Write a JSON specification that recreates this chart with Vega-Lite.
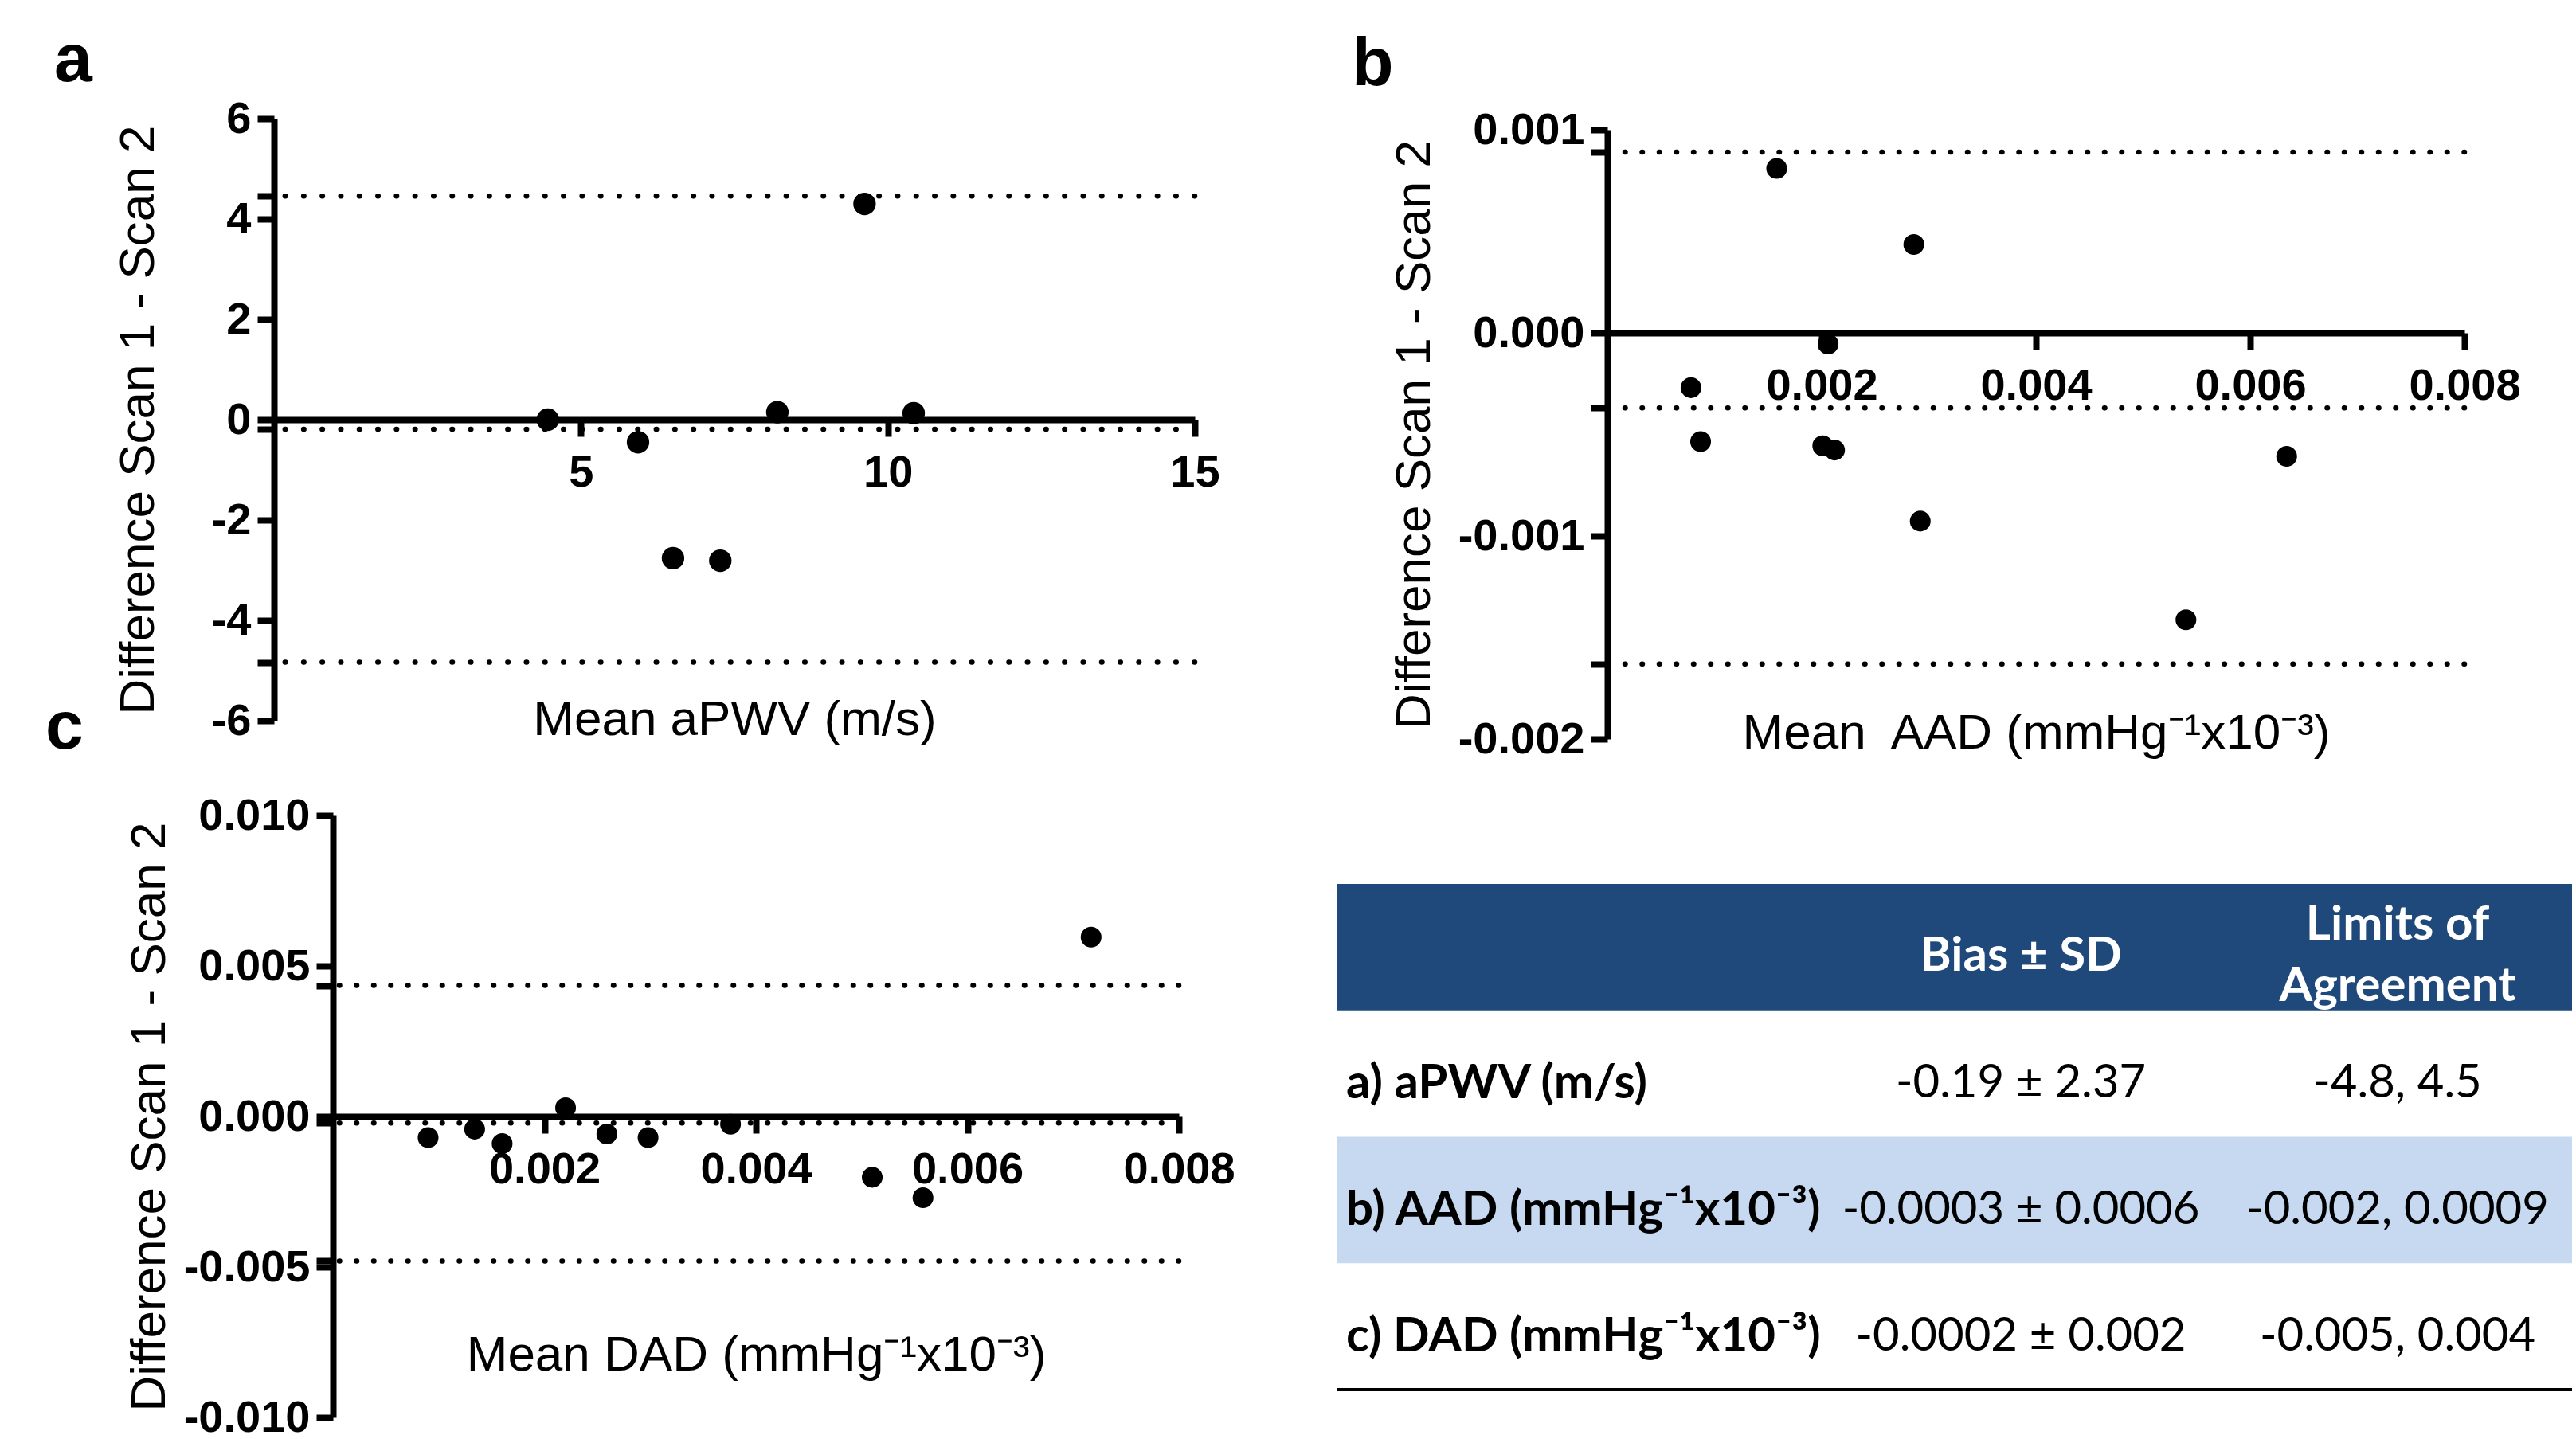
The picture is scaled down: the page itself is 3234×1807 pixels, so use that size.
{
  "$schema": "https://vega.github.io/schema/vega-lite/v6.json",
  "padding": {"left": 57, "top": 33, "right": 5, "bottom": 0},
  "background": "white",
  "datasets": {
    "pwv": [
      {"mean": 4.46, "diff": 0.0},
      {"mean": 5.93, "diff": -0.45},
      {"mean": 6.5, "diff": -2.76},
      {"mean": 7.27, "diff": -2.81},
      {"mean": 8.2, "diff": 0.15},
      {"mean": 9.62, "diff": 4.3},
      {"mean": 10.42, "diff": 0.13}
    ],
    "pwvLoA": [{"diff": 4.455}, {"diff": -0.19}, {"diff": -4.835}],
    "aad": [
      {"mean": 0.00158, "diff": 0.00081},
      {"mean": 0.00286, "diff": 0.000435},
      {"mean": 0.00206, "diff": -0.000055},
      {"mean": 0.00078, "diff": -0.00027},
      {"mean": 0.00087, "diff": -0.000535},
      {"mean": 0.00201, "diff": -0.000556},
      {"mean": 0.00212, "diff": -0.000577},
      {"mean": 0.00292, "diff": -0.000927},
      {"mean": 0.00634, "diff": -0.000608},
      {"mean": 0.0054, "diff": -0.001413}
    ],
    "aadLoA": [{"diff": 0.00089}, {"diff": -0.00037}, {"diff": -0.00163}],
    "dad": [
      {"mean": 0.0009, "diff": -0.0007},
      {"mean": 0.00134, "diff": -0.00042},
      {"mean": 0.0016, "diff": -0.0009},
      {"mean": 0.0022, "diff": 0.00029},
      {"mean": 0.00259, "diff": -0.00058},
      {"mean": 0.00298, "diff": -0.0007},
      {"mean": 0.00376, "diff": -0.00026},
      {"mean": 0.0051, "diff": -0.00202},
      {"mean": 0.00558, "diff": -0.0027},
      {"mean": 0.00717, "diff": 0.00596}
    ],
    "dadLoA": [{"diff": 0.00435}, {"diff": -0.00022}, {"diff": -0.0048}],
    "table": [
      {"row": "header", "col": "label", "text": ""},
      {"row": "header", "col": "bias", "text": "Bias ± SD"},
      {"row": "header", "col": "limits", "text": "Limits of\nAgreement"},
      {"row": "a", "col": "label", "text": "a) aPWV (m/s)"},
      {"row": "a", "col": "bias", "text": "-0.19 ± 2.37"},
      {"row": "a", "col": "limits", "text": "-4.8, 4.5"},
      {"row": "b", "col": "label", "text": "b) AAD (mmHg⁻¹x10⁻³)"},
      {"row": "b", "col": "bias", "text": "-0.0003 ± 0.0006"},
      {"row": "b", "col": "limits", "text": "-0.002, 0.0009"},
      {"row": "c", "col": "label", "text": "c) DAD (mmHg⁻¹x10⁻³)"},
      {"row": "c", "col": "bias", "text": "-0.0002 ± 0.002"},
      {"row": "c", "col": "limits", "text": "-0.005, 0.004"}
    ],
    "empty": []
  },
  "spacing": -85,
  "vconcat": [
    {
      "bounds": "flush",
      "spacing": 518,
      "hconcat": [
        {
          "width": 1156,
          "height": 756,
          "title": {"text": "a", "anchor": "start", "frame": "group", "dx": -276, "offset": -67, "fontSize": 86, "font": "Liberation Sans", "fontWeight": "bold", "baseline": "alphabetic", "color": "black"},
          "encoding": {
            "y": {
              "field": "diff", "type": "quantitative",
              "scale": {"domain": [-6, 6], "nice": false, "zero": false},
              "axis": {
                "values": [-6, -4.835, -4, -2, -0.19, 0, 2, 4, 4.455, 6],
                "labelExpr": "datum.value % 2 === 0 ? replace(datum.label, '−', '-') : ''",
                "title": "Difference Scan 1 - Scan 2",
                "titleX": -152, "titleBaseline": "alphabetic"
              }
            }
          },
          "layer": [
            {
              "data": {"name": "pwvLoA"},
              "mark": {"type": "rule", "color": "black", "strokeWidth": 6.5, "strokeDash": [0.5, 22.8], "strokeCap": "round"}
            },
            {
              "data": {"name": "pwv"},
              "mark": {"type": "circle", "color": "black", "opacity": 1, "size": 800},
              "encoding": {
                "x": {
                  "field": "mean", "type": "quantitative",
                  "scale": {"domain": [0, 15], "nice": false, "zero": false},
                  "axis": {"values": [5, 10, 15], "offset": -378, "title": "Mean aPWV (m/s)", "titleY": 395, "titleBaseline": "alphabetic"}
                }
              }
            }
          ]
        },
        {
          "bounds": "flush",
          "spacing": 0,
          "vconcat": [
            {"width": 1, "height": 14, "data": {"name": "empty"}, "mark": "point"},
            {
              "width": 1076,
              "height": 765,
              "title": {"text": "b", "anchor": "start", "frame": "group", "dx": -321, "offset": -58, "fontSize": 86, "font": "Liberation Sans", "fontWeight": "bold", "baseline": "alphabetic", "color": "black"},
              "encoding": {
                "y": {
                  "field": "diff", "type": "quantitative",
                  "scale": {"domain": [-0.002, 0.001], "nice": false, "zero": false},
                  "axis": {
                    "values": [-0.002, -0.00163, -0.001, -0.00037, 0, 0.00089, 0.001],
                    "format": ".3f",
                    "labelExpr": "abs(datum.value*1000 - round(datum.value*1000)) < 1e-6 ? replace(datum.label, '−', '-') : ''",
                    "title": "Difference Scan 1 - Scan 2",
                    "titleX": -224, "titleBaseline": "alphabetic"
                  }
                }
              },
              "layer": [
                {
                  "data": {"name": "aadLoA"},
                  "mark": {"type": "rule", "color": "black", "strokeWidth": 6.5, "strokeDash": [0.5, 21], "strokeCap": "round"}
                },
                {
                  "data": {"name": "aad"},
                  "mark": {"type": "circle", "color": "black", "opacity": 1, "size": 680},
                  "encoding": {
                    "x": {
                      "field": "mean", "type": "quantitative",
                      "scale": {"domain": [0, 0.008], "nice": false, "zero": false},
                      "axis": {"values": [0.002, 0.004, 0.006, 0.008], "format": ".3f", "offset": -510, "title": "Mean\u00a0 AAD (mmHg⁻¹x10⁻³)", "titleY": 521, "titleBaseline": "alphabetic"}
                    }
                  }
                }
              ]
            }
          ]
        }
      ]
    },
    {
      "bounds": "flush",
      "spacing": 0,
      "hconcat": [
        {"width": 74, "height": 1, "data": {"name": "empty"}, "mark": "point"},
        {
          "width": 1062,
          "height": 756,
          "title": {"text": "c", "anchor": "start", "frame": "group", "dx": -361, "offset": -30, "fontSize": 86, "font": "Liberation Sans", "fontWeight": "bold", "baseline": "alphabetic", "color": "black"},
          "encoding": {
            "y": {
              "field": "diff", "type": "quantitative",
              "scale": {"domain": [-0.01, 0.01], "nice": false, "zero": false},
              "axis": {
                "values": [-0.01, -0.005, -0.0048, -0.00022, 0, 0.00435, 0.005, 0.01],
                "format": ".3f",
                "labelExpr": "abs(datum.value*200 - round(datum.value*200)) < 1e-6 ? replace(datum.label, '−', '-') : ''",
                "title": "Difference Scan 1 - Scan 2",
                "titleX": -212, "titleBaseline": "alphabetic"
              }
            }
          },
          "layer": [
            {
              "data": {"name": "dadLoA"},
              "mark": {"type": "rule", "color": "black", "strokeWidth": 6.5, "strokeDash": [0.5, 21], "strokeCap": "round"}
            },
            {
              "data": {"name": "dad"},
              "mark": {"type": "circle", "color": "black", "opacity": 1, "size": 680},
              "encoding": {
                "x": {
                  "field": "mean", "type": "quantitative",
                  "scale": {"domain": [0, 0.008], "nice": false, "zero": false},
                  "axis": {"values": [0.002, 0.004, 0.006, 0.008], "format": ".3f", "offset": -378, "title": "Mean DAD (mmHg⁻¹x10⁻³)", "titleY": 318, "titleBaseline": "alphabetic"}
                }
              }
            }
          ]
        },
        {"width": 198, "height": 1, "data": {"name": "empty"}, "mark": "point"},
        {
          "bounds": "flush",
          "spacing": 0,
          "vconcat": [
            {"width": 1, "height": 86, "data": {"name": "empty"}, "mark": "point"},
            {
              "width": 1551,
              "height": 635,
              "data": {"name": "table"},
              "encoding": {
                "y": {"field": "row", "type": "nominal", "scale": {"type": "band", "domain": ["header", "a", "b", "c"], "paddingInner": 0, "paddingOuter": 0}, "axis": null}
              },
              "layer": [
                {
                  "transform": [{"filter": "datum.row === 'header' && datum.col === 'label'"}],
                  "mark": {"type": "rect", "color": "#1F497A"},
                  "encoding": {"x": {"value": 0}, "x2": {"value": "width"}}
                },
                {
                  "transform": [{"filter": "datum.row === 'b' && datum.col === 'label'"}],
                  "mark": {"type": "rect", "color": "#C6D9F0"},
                  "encoding": {"x": {"value": 0}, "x2": {"value": "width"}}
                },
                {
                  "transform": [{"filter": "datum.row === 'header' && datum.col === 'bias'"}],
                  "mark": {"type": "text", "font": "Lato", "fontWeight": "bold", "fontSize": 60, "color": "white", "align": "center", "baseline": "middle", "dy": 12},
                  "encoding": {
                    "x": {"field": "col", "type": "nominal", "scale": {"type": "point", "domain": ["bias", "limits"], "range": [859, 1332], "padding": 0}, "axis": null},
                    "text": {"field": "text"}
                  }
                },
                {
                  "transform": [{"filter": "datum.row === 'header' && datum.col === 'limits'"}],
                  "mark": {"type": "text", "font": "Lato", "fontWeight": "bold", "fontSize": 60, "color": "white", "lineBreak": "\n", "lineHeight": 77, "align": "center", "baseline": "middle", "dy": -27},
                  "encoding": {
                    "x": {"field": "col", "type": "nominal", "scale": {"type": "point", "domain": ["bias", "limits"], "range": [859, 1332], "padding": 0}, "axis": null},
                    "text": {"field": "text"}
                  }
                },
                {
                  "transform": [{"filter": "datum.row !== 'header' && datum.col === 'label'"}],
                  "mark": {"type": "text", "font": "Lato", "fontWeight": "bold", "fontSize": 60, "color": "black", "align": "left", "baseline": "middle", "x": 12, "dy": 13},
                  "encoding": {"text": {"field": "text"}}
                },
                {
                  "transform": [{"filter": "datum.row !== 'header' && datum.col !== 'label'"}],
                  "mark": {"type": "text", "font": "Lato", "fontSize": 58, "color": "black", "align": "center", "baseline": "middle", "dy": 13},
                  "encoding": {
                    "x": {"field": "col", "type": "nominal", "scale": {"type": "point", "domain": ["bias", "limits"], "range": [859, 1332], "padding": 0}, "axis": null},
                    "text": {"field": "text"}
                  }
                },
                {
                  "transform": [{"filter": "datum.row === 'c' && datum.col === 'label'"}],
                  "mark": {"type": "rule", "color": "black", "strokeWidth": 4},
                  "encoding": {"y": {"field": "row", "type": "nominal", "bandPosition": 1}, "x": {"value": 0}, "x2": {"value": "width"}}
                }
              ]
            }
          ]
        }
      ]
    }
  ],
  "config": {
    "view": {"stroke": null},
    "axis": {
      "domainColor": "black", "domainWidth": 8,
      "tickColor": "black", "tickWidth": 8, "tickSize": 21,
      "labelFont": "Liberation Sans", "labelFontSize": 56, "labelFontWeight": "bold", "labelColor": "black",
      "titleFont": "Liberation Sans", "titleFontSize": 62, "titleFontWeight": "normal", "titleColor": "black",
      "grid": false, "labelFlush": false, "labelOverlap": false
    },
    "axisX": {"labelPadding": 18},
    "axisY": {"labelPadding": 8}
  }
}
